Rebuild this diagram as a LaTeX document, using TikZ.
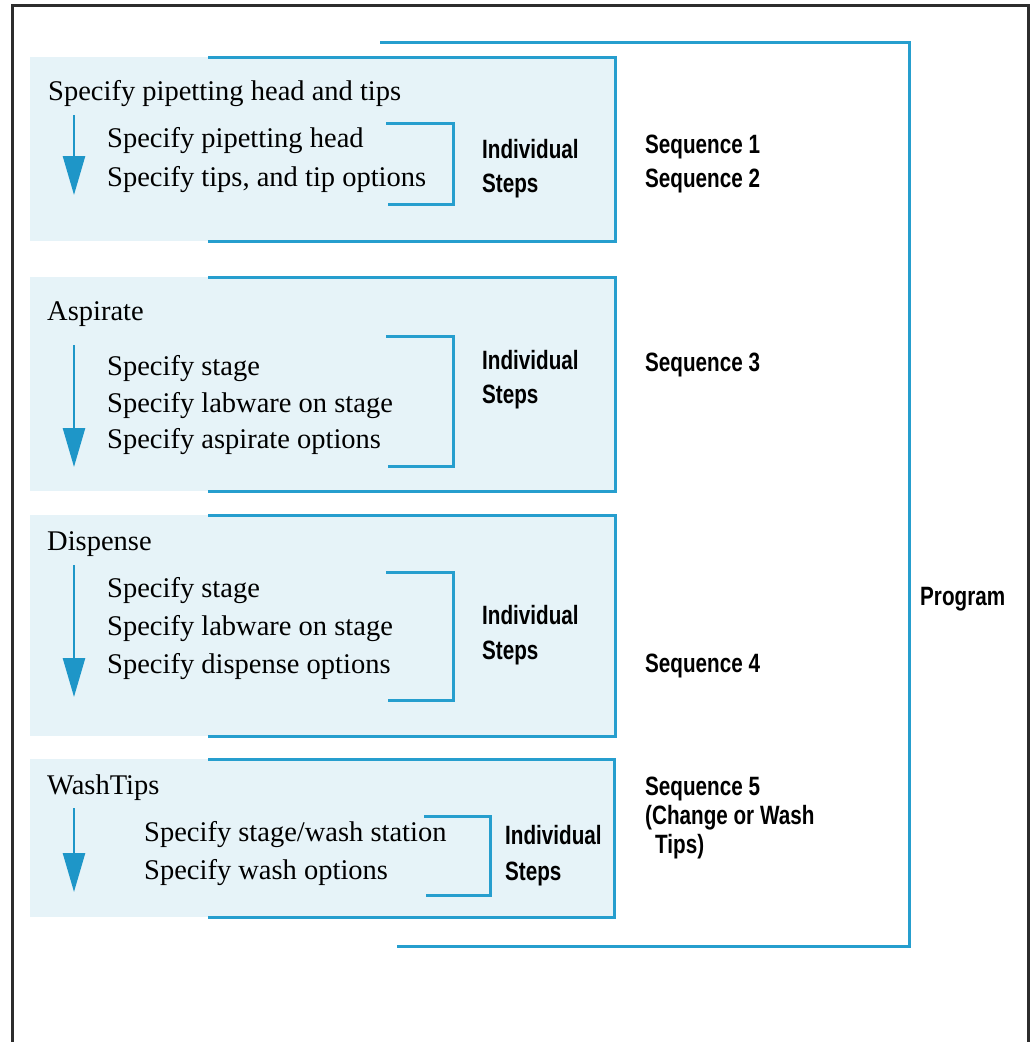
\documentclass[tikz,border=0pt]{standalone}
\usepackage{fontspec}
\setmainfont{Liberation Serif}
\newfontfamily\condsans[FakeStretch=0.78]{Liberation Sans}
\usetikzlibrary{arrows.meta}
\definecolor{lineblue}{RGB}{38,158,206}
\definecolor{arrowblue}{RGB}{30,150,200}
\definecolor{boxfill}{RGB}{230,243,248}
\definecolor{framegray}{RGB}{45,45,45}
\tikzset{
  serif/.style={anchor=base west, inner sep=0pt, font=\fontsize{28.5}{32}\selectfont},
  sanslbl/.style={anchor=base west, inner sep=0pt, font=\condsans\bfseries\fontsize{26.5}{30}\selectfont},
  blueline/.style={draw=lineblue, line width=3pt},
  flowarrow/.style={draw=arrowblue, line width=2.6pt, -{Triangle[width=22pt,length=39pt]}},
  boxbg/.style={fill=boxfill, draw=none},
}
\begin{document}
\begin{tikzpicture}[x=1pt,y=-1pt]
\useasboundingbox (0,0) rectangle (1032,1042);
% outer frame
\draw[framegray, line width=3pt] (12,1050) -- (12,5) -- (1028,5) -- (1028,1050);
% program bracket
\coordinate (pgTL) at (380,42);
\coordinate (pgTR) at (909,42);
\coordinate (pgBR) at (909,946);
\coordinate (pgBL) at (397,946);
\draw[blueline] (pgTL) -- (pgTR) -- (pgBR) -- (pgBL);
\node[sanslbl] (program) at (920,605) {Program};

% ---------- Box 1 ----------
\fill[boxbg] (30,57) rectangle (615,241);
\draw[blueline] (208,57) -- (615,57) -- (615,241) -- (208,241);
\node[serif] (t1) at (48,100) {Specify pipetting head and tips};
\coordinate (a1s) at (74,115);
\coordinate (a1e) at (74,195);
\draw[flowarrow] (a1s) -- (a1e);
\node[serif] (s11) at (107,147) {Specify pipetting head};
\node[serif] (s12) at (107,186) {Specify tips, and tip options};
\coordinate (b1a) at (386,123);
\coordinate (b1b) at (453,123);
\coordinate (b1c) at (453,204);
\coordinate (b1d) at (388,204);
\draw[blueline] (b1a) -- (b1b) -- (b1c) -- (b1d);
\node[sanslbl] (i1a) at (482,158) {Individual};
\node[sanslbl] (i1b) at (482,192) {Steps};
\node[sanslbl] (q1) at (645,153) {Sequence 1};
\node[sanslbl] (q2) at (645,187) {Sequence 2};

% ---------- Box 2 ----------
\fill[boxbg] (30,277) rectangle (615,491);
\draw[blueline] (208,277) -- (615,277) -- (615,491) -- (208,491);
\node[serif] (t2) at (47,320) {Aspirate};
\coordinate (a2s) at (74,345);
\coordinate (a2e) at (74,467);
\draw[flowarrow] (a2s) -- (a2e);
\node[serif] (s21) at (107,375) {Specify stage};
\node[serif] (s22) at (107,412) {Specify labware on stage};
\node[serif] (s23) at (107,448) {Specify aspirate options};
\coordinate (b2a) at (386,336);
\coordinate (b2b) at (453,336);
\coordinate (b2c) at (453,466);
\coordinate (b2d) at (388,466);
\draw[blueline] (b2a) -- (b2b) -- (b2c) -- (b2d);
\node[sanslbl] (i2a) at (482,369) {Individual};
\node[sanslbl] (i2b) at (482,403) {Steps};
\node[sanslbl] (q3) at (645,371) {Sequence 3};

% ---------- Box 3 ----------
\fill[boxbg] (30,515) rectangle (615,736);
\draw[blueline] (208,515) -- (615,515) -- (615,736) -- (208,736);
\node[serif] (t3) at (47,550) {Dispense};
\coordinate (a3s) at (74,565);
\coordinate (a3e) at (74,697);
\draw[flowarrow] (a3s) -- (a3e);
\node[serif] (s31) at (107,597) {Specify stage};
\node[serif] (s32) at (107,635) {Specify labware on stage};
\node[serif] (s33) at (107,673) {Specify dispense options};
\coordinate (b3a) at (386,572);
\coordinate (b3b) at (453,572);
\coordinate (b3c) at (453,700);
\coordinate (b3d) at (388,700);
\draw[blueline] (b3a) -- (b3b) -- (b3c) -- (b3d);
\node[sanslbl] (i3a) at (482,624) {Individual};
\node[sanslbl] (i3b) at (482,659) {Steps};
\node[sanslbl] (q4) at (645,672) {Sequence 4};

% ---------- Box 4 ----------
\fill[boxbg] (30,759) rectangle (614,917);
\draw[blueline] (208,759) -- (614,759) -- (614,917) -- (208,917);
\node[serif] (t4) at (47,794) {WashTips};
\coordinate (a4s) at (74,808);
\coordinate (a4e) at (74,892);
\draw[flowarrow] (a4s) -- (a4e);
\node[serif] (s41) at (144,841) {Specify stage/wash station};
\node[serif] (s42) at (144,879) {Specify wash options};
\coordinate (b4a) at (424,816);
\coordinate (b4b) at (490,816);
\coordinate (b4c) at (490,895);
\coordinate (b4d) at (426,895);
\draw[blueline] (b4a) -- (b4b) -- (b4c) -- (b4d);
\node[sanslbl] (i4a) at (505,844) {Individual};
\node[sanslbl] (i4b) at (505,880) {Steps};
\node[sanslbl] (q5a) at (645,795) {Sequence 5};
\node[sanslbl] (q5b) at (645,824) {(Change or Wash};
\node[sanslbl] (q5c) at (655,853) {Tips)};
\end{tikzpicture}
\end{document}
